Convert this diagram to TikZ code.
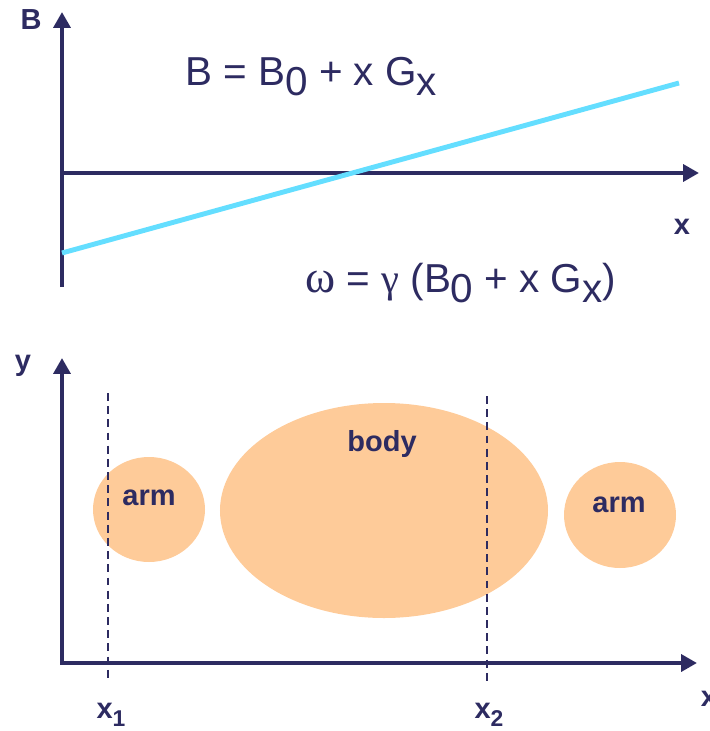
\documentclass[tikz,border=0pt]{standalone}
\usepackage{fontspec}
\setmainfont{Liberation Sans}
\newfontfamily\greekfont{Liberation Serif}
\usetikzlibrary{arrows.meta,shapes.geometric}
\definecolor{navy}{RGB}{45,43,97}
\definecolor{sky}{RGB}{100,222,255}
\definecolor{peach}{RGB}{254,203,153}
\newcommand\dn[1]{\raisebox{-0.26em}{#1}}
\tikzset{
  axis/.style={draw=navy,line width=2.4pt,{Triangle[length=9pt,width=9.5pt]}-{Triangle[length=9pt,width=9.5pt]}},
  uparrow/.style={draw=navy,line width=2.4pt,-{Triangle[length=9pt,width=9.5pt]}},
  field/.style={draw=sky,line width=2.8pt},
  cut/.style={draw=navy,line width=1.4pt,dash pattern=on 4.5pt off 3pt},
  blob/.style={ellipse,fill=peach,inner sep=0pt},
  tag/.style={font=\fontsize{16.5}{18}\selectfont\bfseries,text=navy,anchor=base,inner sep=0pt},
  eqn/.style={font=\fontsize{23}{27}\selectfont,text=navy,anchor=base west,inner sep=0pt},
}
\begin{document}
\begin{tikzpicture}[x=0.2mm,y=-0.2mm]
  \useasboundingbox (0,0) rectangle (710,731);
  % field plot
  \coordinate (btop) at (62,12);
  \coordinate (bbot) at (62,287);
  \coordinate (o1) at (62,173);
  \coordinate (xend1) at (699,173);
  \coordinate (gstart) at (62,253);
  \coordinate (gend) at (679,83);
  \draw[uparrow] (bbot) -- (btop);
  \draw[uparrow] (o1) -- (xend1);
  \draw[field] (gstart) -- (gend);
  \node[tag] (labB) at (31,29) {B};
  \node[tag] (labx1) at (682,234) {x};
  \node[eqn] (eqB) at (185,85) {B = B\dn{0} + x G\dn{x}};
  \node[eqn] (eqw) at (305,292) {{\greekfont\fontsize{26}{28}\selectfont ω} = {\greekfont γ} (B\dn{0} + x G\dn{x})};
  % object plot
  \node[blob,minimum width=22.4mm,minimum height=21mm] (armL) at (149,509.5) {};
  \node[blob,minimum width=65.6mm,minimum height=43mm] (body) at (384,510.5) {};
  \node[blob,minimum width=22.4mm,minimum height=21.2mm] (armR) at (620,515) {};
  \node[tag] (labarmL) at (149,505) {arm};
  \node[tag] (labbody) at (382,451) {body};
  \node[tag] (labarmR) at (619,512) {arm};
  \coordinate (c1top) at (108,393);
  \coordinate (c1bot) at (108,681);
  \coordinate (c2top) at (487,396);
  \coordinate (c2bot) at (487,681);
  \draw[cut] (c1top) -- (c1bot);
  \draw[cut] (c2top) -- (c2bot);
  \coordinate (ytop) at (62,358);
  \coordinate (o2) at (62,663);
  \coordinate (xend2) at (697,663);
  \draw[axis] (ytop) -- (o2) -- (xend2);
  \node[tag] (laby) at (23,370) {y};
  \node[tag] (labx2) at (709,706) {x};
  \node[tag] (labxa) at (111,718) {x\raisebox{-0.28em}{\fontsize{13}{15}\selectfont 1}};
  \node[tag] (labxb) at (489,718) {x\raisebox{-0.28em}{\fontsize{13}{15}\selectfont 2}};
\end{tikzpicture}
\end{document}
